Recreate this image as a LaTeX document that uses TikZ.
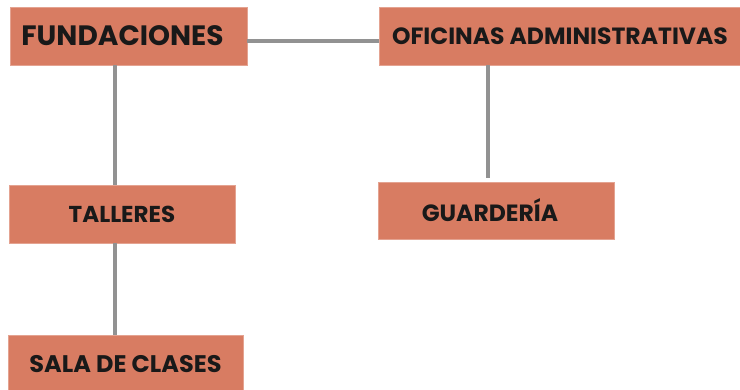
\documentclass[tikz,border=0pt]{standalone}
\usepackage{fontspec}
\setmainfont{Poppins}
\definecolor{salmon}{RGB}{216,124,98}
\definecolor{linkgray}{RGB}{146,146,146}
\tikzset{
  area/.style={draw=salmon!70!white, line width=0.8pt, fill=salmon, inner sep=0pt,
    font=\bfseries, text=black!90},
  link/.style={draw=linkgray, line width=4pt}
}
\begin{document}
\begin{tikzpicture}[x=1pt,y=1pt]
\useasboundingbox (0,0) rectangle (740,390);
\node[area, minimum width=237pt, minimum height=58pt, font=\bfseries\fontsize{28}{28}\selectfont] (fund) at (128.5,354) {FUNDACIONES\kern12pt};
\node[area, minimum width=362pt, minimum height=58pt, font=\bfseries\fontsize{23.5}{23.5}\selectfont] (ofic) at (560,354) {OFICINAS ADMINISTRATIVAS};
\node[area, minimum width=226pt, minimum height=58pt, font=\bfseries\fontsize{23}{23}\selectfont] (tall) at (122,176) {TALLERES};
\node[area, minimum width=236pt, minimum height=57pt, font=\bfseries\fontsize{23.5}{23.5}\selectfont] (guar) at (496,179.5) {GUARDERÍA\kern12pt};
\node[area, minimum width=235pt, minimum height=58pt, font=\bfseries\fontsize{24}{24}\selectfont] (sala) at (125.5,26) {SALA DE CLASES};

\coordinate (trunk) at (115,0);
\coordinate (branch) at (488,0);
\coordinate (spine) at (0,349);

\draw[link] (fund.east |- spine) -- (ofic.west |- spine);
\draw[link] (fund.south -| trunk) -- (tall.north -| trunk);
\draw[link] (tall.south -| trunk) -- (sala.north -| trunk);
\draw[link] (ofic.south -| branch) -- ([yshift=4pt]guar.north -| branch);
\end{tikzpicture}
\end{document}
